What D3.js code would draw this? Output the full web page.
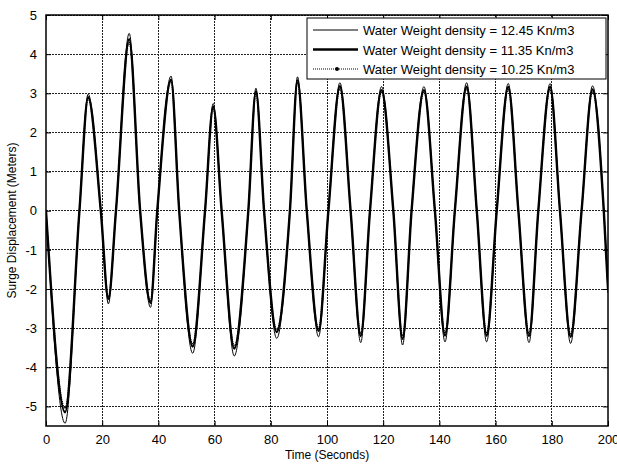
<!DOCTYPE html>
<html><head><meta charset="utf-8">
<script src="https://cdn.jsdelivr.net/npm/d3@7/dist/d3.min.js"></script>
<style>body{margin:0;background:#fff}svg{font-family:"Liberation Sans",Arial,sans-serif}</style>
</head><body>
<svg id="c" width="617" height="466"></svg>
<script>
// Key sample times (s): extrema and zero crossings
const times = [0,6.8,11.9,15.0,19.5,22.2,24.9,29.6,33.5,37.2,39.6,44.5,47.4,52.2,56.6,59.5,62.5,67.0,72.0,74.7,77.6,82.1,86.8,89.5,92.8,97.0,100.5,104.6,108.4,112.0,115.3,119.4,123.6,126.9,130.1,134.5,138.4,142.0,145.5,149.7,153.3,156.8,160.4,164.5,168.1,171.9,175.2,179.4,182.9,186.7,190.6,194.5,198.5,200];
const surge1245 = [0,-5.43,0,2.98,0,-2.38,0,4.53,0,-2.47,0,3.44,0,-3.64,0,2.74,0,-3.71,0,3.13,0,-3.26,0,3.42,0,-3.22,0,3.27,0,-3.37,0,3.17,0,-3.43,0,3.17,0,-3.35,0,3.27,0,-3.35,0,3.25,0,-3.37,0,3.25,0,-3.39,0,3.19,0,-2.1];
const surge1135 = [0,-5.15,0,2.90,0,-2.25,0,4.38,0,-2.35,0,3.35,0,-3.47,0,2.66,0,-3.52,0,3.05,0,-3.10,0,3.33,0,-3.07,0,3.18,0,-3.20,0,3.08,0,-3.27,0,3.08,0,-3.19,0,3.17,0,-3.19,0,3.16,0,-3.20,0,3.16,0,-3.22,0,3.10,0,-2.0];
const surge1025 = [0,-5.05,0,2.86,0,-2.20,0,4.30,0,-2.30,0,3.30,0,-3.40,0,2.61,0,-3.45,0,3.00,0,-3.04,0,3.27,0,-3.01,0,3.12,0,-3.14,0,3.03,0,-3.20,0,3.03,0,-3.13,0,3.11,0,-3.13,0,3.10,0,-3.14,0,3.10,0,-3.16,0,3.05,0,-1.95];
const seriesNames = ["Water Weight density = 12.45 Kn/m3","Water Weight density = 11.35 Kn/m3","Water Weight density = 10.25 Kn/m3"];
const xTicks = [0,20,40,60,80,100,120,140,160,180,200];
const yTicks = [-5,-4,-3,-2,-1,0,1,2,3,4,5];

const svg = d3.select("#c");
const L=46,R=608,T=15,B=426;
const x = d3.scaleLinear().domain([0,200]).range([L,R]);
const y = d3.scaleLinear().domain([-5.5,5]).range([B,T]);

// grid
const g = svg.append("g");
g.selectAll(".gx").data(xTicks.slice(1,-1)).join("line")
  .attr("x1",d=>x(d)).attr("x2",d=>x(d)).attr("y1",T).attr("y2",B)
  .attr("stroke","#222").attr("stroke-width",1).attr("stroke-dasharray","2,1").attr("shape-rendering","crispEdges");
g.selectAll(".gy").data(yTicks).join("line")
  .attr("y1",d=>y(d)).attr("y2",d=>y(d)).attr("x1",L).attr("x2",R)
  .attr("stroke","#222").attr("stroke-width",1).attr("stroke-dasharray","2,1").attr("shape-rendering","crispEdges");

// lines
const mk = vals => d3.line().x((d,i)=>x(times[i])).y(d=>y(d)).curve(d3.curveMonotoneX)(vals);
svg.append("clipPath").attr("id","cp").append("rect").attr("x",L).attr("y",T).attr("width",R-L).attr("height",B-T);
const lg = svg.append("g").attr("clip-path","url(#cp)");
lg.append("path").attr("d",mk(surge1245)).attr("fill","none").attr("stroke","#000").attr("stroke-width",1);
lg.append("path").attr("d",mk(surge1135)).attr("fill","none").attr("stroke","#000").attr("stroke-width",2.4);
lg.append("path").attr("d",mk(surge1025)).attr("fill","none").attr("stroke","#000").attr("stroke-width",1.6)
  .attr("stroke-linecap","round").attr("stroke-dasharray","0,2.2");

// axes box
svg.append("rect").attr("x",L).attr("y",T).attr("width",R-L).attr("height",B-T)
  .attr("fill","none").attr("stroke","#000").attr("stroke-width",1.5);

// ticks inward on four sides
const axB = d3.axisBottom(x).tickValues(xTicks).tickSize(-5).tickPadding(9).tickFormat(d3.format("d"));
const axL = d3.axisLeft(y).tickValues(yTicks).tickSize(-5).tickPadding(9).tickFormat(d=>d<0?"-"+Math.abs(d):d);
const axT = d3.axisTop(x).tickValues(xTicks).tickSize(-5).tickFormat("");
const axR = d3.axisRight(y).tickValues(yTicks).tickSize(-5).tickFormat("");
function style(sel){sel.select(".domain").remove();sel.selectAll("line").attr("stroke","#000");sel.selectAll("text").attr("font-size",13).attr("fill","#000").attr("font-family","Liberation Sans, Arial, sans-serif");}
svg.append("g").attr("transform",`translate(0,${B})`).call(axB).call(style);
svg.append("g").attr("transform",`translate(${L},0)`).call(axL).call(style);
svg.append("g").attr("transform",`translate(0,${T})`).call(axT).call(style);
svg.append("g").attr("transform",`translate(${R},0)`).call(axR).call(style);

// axis labels
svg.append("text").attr("x",(L+R)/2).attr("y",459).attr("text-anchor","middle").attr("font-size",12).text("Time (Seconds)");
svg.append("text").attr("transform",`translate(16,${(T+B)/2}) rotate(-90)`).attr("text-anchor","middle").attr("font-size",12).text("Surge Displacement (Meters)");

// legend
const leg = svg.append("g");
leg.append("rect").attr("x",307).attr("y",18).attr("width",299).attr("height",61).attr("fill","#fff").attr("stroke","#000").attr("stroke-width",1);
const rows=[30,49.5,69];
const widths=[1,2.4,1];
seriesNames.forEach((n,i)=>{
  const ln = leg.append("line").attr("x1",313).attr("x2",358).attr("y1",rows[i]).attr("y2",rows[i]).attr("stroke","#000").attr("stroke-width",widths[i]);
  if(i===2){ln.attr("stroke-dasharray","1,1");leg.append("circle").attr("cx",337).attr("cy",rows[i]).attr("r",2).attr("fill","#000");}
  leg.append("text").attr("x",363).attr("y",rows[i]+5).attr("font-size",13).text(n);
});
</script>
</body></html>
